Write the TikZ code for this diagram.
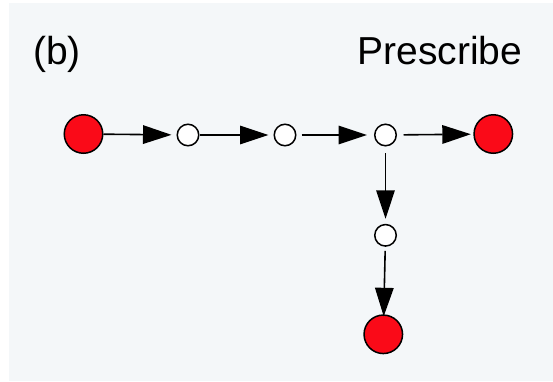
\documentclass[tikz,border=0pt]{standalone}
\usepackage{fontspec}
\setmainfont{Liberation Sans}
\usetikzlibrary{arrows.meta}
\definecolor{bgc}{RGB}{244,247,249}
\definecolor{redc}{RGB}{250,10,24}
\begin{document}
\begin{tikzpicture}[x=1pt,y=-1pt,
  bignode/.style={circle,draw=black,line width=1.5pt,fill=redc,minimum size=38.5pt,inner sep=0pt},
  smallnode/.style={circle,draw=black,line width=1.5pt,fill=white,minimum size=21.5pt,inner sep=0pt},
  conn/.style={line width=1.6pt,black,-{Triangle[length=28.5pt,width=18.5pt]}},
  lbl/.style={inner sep=0pt,font=\fontsize{39}{47}\selectfont}]
\useasboundingbox (0,0) rectangle (553,381);
\fill[bgc] (9,3) rectangle (553,381);
\node[lbl,anchor=base west] (lb) at (33,64.5) {(b)};
\node[lbl,anchor=base east] (lp) at (522.5,64.5) {Prescribe};
\node[bignode] (r1) at (83.5,134) {};
\node[smallnode] (w1) at (188,135) {};
\node[smallnode] (w2) at (285,135) {};
\node[smallnode] (w3) at (385.5,135) {};
\node[bignode] (r2) at (493.3,134) {};
\node[smallnode] (w4) at (385.5,235.3) {};
\node[bignode] (r3) at (383.3,334.3) {};
\draw[conn,shorten >=5pt] (r1) -- (w1);
\draw[conn,shorten <=0.5pt,shorten >=5pt] (w1) -- (w2);
\draw[conn,shorten <=5pt,shorten >=7pt] (w2) -- (w3);
\draw[conn,shorten <=6.5pt,shorten >=2.5pt] (w3) -- (r2);
\draw[conn,shorten <=6.5pt,shorten >=5pt] (w3) -- (w4);
\draw[conn,shorten <=4pt,shorten >=-2pt] (w4) -- (r3);
\end{tikzpicture}
\end{document}
